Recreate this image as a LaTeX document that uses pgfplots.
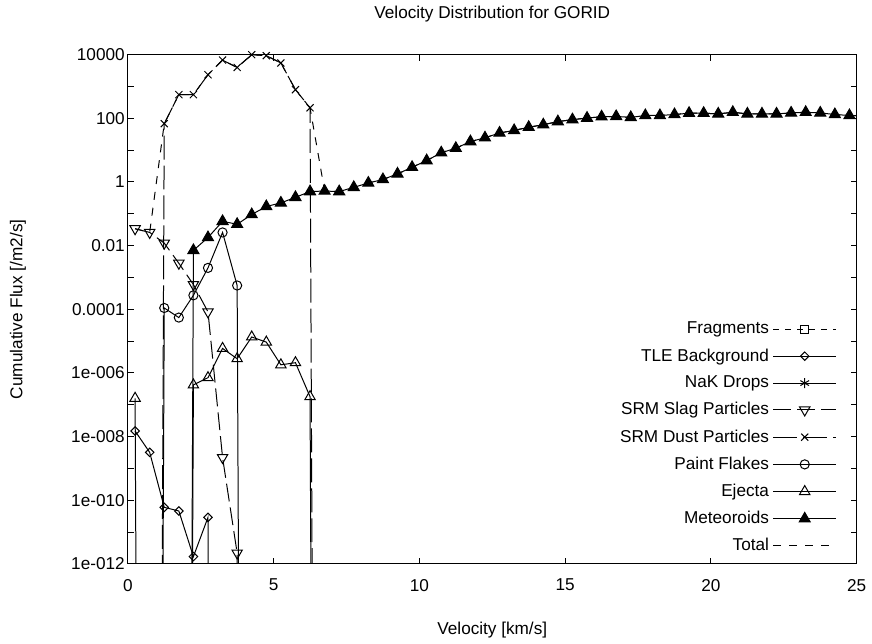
\documentclass[border=0pt]{standalone}
\usepackage{fontspec}
\setmainfont{Liberation Sans}
\usepackage{pgfplots}
\pgfplotsset{compat=1.18}
% 1e-100 stands for "practically zero": the segment drops off the bottom of the log axis
\begin{document}
\fontsize{8.6}{10}\selectfont
\begin{tikzpicture}
\pgfplotsset{legend image code/.code={\draw[mark repeat=2,mark phase=2] plot coordinates {(0cm,0cm)(0.55cm,0cm)(1.1cm,0cm)};}}
\begin{axis}[scale only axis,width=365pt,height=255pt,
 xmin=0,xmax=25,ymode=log,ymin=1e-12,ymax=1e4,
 axis line style={line width=0.5pt},
 tick align=inside,major tick length=3pt,tick style={line width=0.5pt,black},
 minor y tick style={draw=none},
 xtick={0,5,10,15,20,25},xticklabels={0,5,10,15,20,25},
 ytick={1e-12,1e-11,1e-10,1e-9,1e-8,1e-7,1e-6,1e-5,1e-4,1e-3,1e-2,1e-1,1,10,100,1000,10000},
 yticklabels={1e-012,,1e-010,,1e-008,,1e-006,,0.0001,,0.01,,1,,100,,10000},
 ticklabel style={font=\fontsize{8.6}{10}\selectfont},
 xticklabel style={yshift=-4.5pt},
 yticklabel style={xshift=1.5pt},
 label style={font=\fontsize{8.6}{10}\selectfont},
 title={Velocity Distribution for GORID},
 title style={at={(0.5,1.0569)},anchor=center,font=\fontsize{8.6}{10}\selectfont},
 xlabel={Velocity [km/s]},xlabel style={at={(0.5,-0.1300)},anchor=center},
 ylabel={Cumulative Flux [/m2/s]},ylabel style={at={(-0.1507,0.5)},anchor=center},
 legend plot pos=right,legend cell align=right,
 legend style={draw=none,fill=none,at={(0.981,0.004)},anchor=south east,row sep=2.1pt,
   font=\fontsize{8.6}{10}\selectfont},
 every axis plot/.append style={black,line width=0.5pt}]

\addlegendimage{dash pattern=on 3pt off 3pt,mark=square,mark size=2pt,mark options={solid}}
\addlegendentry{Fragments}

\addplot[mark=square,mark size=1.5pt,mark options={rotate=45}] coordinates {
(0.25,1.5e-8)(0.75,3.2e-9)(1.25,6.0e-11)(1.75,4.6e-11)(2.25,1.7e-12)(2.75,2.9e-11)(3.25,1e-100)};
\addlegendentry{TLE Background}

\addlegendimage{mark=asterisk,mark size=2.5pt}
\addlegendentry{NaK Drops}

\addplot[dash pattern=on 9pt off 3pt,mark=triangle,mark size=3pt,mark options={solid,rotate=180}] coordinates {
(0.25,3.4e-2)(0.75,2.6e-2)(1.25,1.2e-2)(1.75,2.8e-3)(2.25,6.0e-4)(2.75,8.3e-5)(3.25,2.2e-9)(3.75,2.2e-12)(4.25,1e-100)};
\addlegendentry{SRM Slag Particles}

\addplot[dash pattern=on 12pt off 3pt,mark=x,mark size=2.5pt,mark options={solid}] coordinates {
(0.75,1e-100)(1.25,68)(1.75,556)(2.25,556)(2.75,2340)(3.25,6760)(3.75,3980)(4.25,10000)(4.75,9330)(5.25,5500)(5.75,794)(6.25,214)(6.75,1e-100)};
\addlegendentry{SRM Dust Particles}

\addplot[mark=o,mark size=2.3pt] coordinates {
(0.75,1e-100)(1.25,1.1e-4)(1.75,5.5e-5)(2.25,2.75e-4)(2.75,2.0e-3)(3.25,2.6e-2)(3.75,5.6e-4)(4.25,1e-100)};
\addlegendentry{Paint Flakes}

\addplot[mark=triangle,mark size=3pt] coordinates {
(0.25,1.6e-7)(0.75,1e-100)(1.25,1e-100)(1.75,1e-100)(2.25,4.2e-7)(2.75,7.1e-7)(3.25,5.9e-6)(3.75,2.8e-6)(4.25,1.35e-5)(4.75,9.3e-6)(5.25,1.8e-6)(5.75,2.1e-6)(6.25,1.8e-7)(6.75,1e-100)};
\addlegendentry{Ejecta}

\addplot[mark=triangle*,mark size=3.2pt] coordinates {
(1.75,1e-100)(2.25,7.1e-3)(2.75,1.8e-2)(3.25,5.8e-2)(3.75,4.7e-2)(4.25,9.5e-2)(4.75,0.17)(5.25,0.22)(5.75,0.33)
(6.25,0.50)(6.75,0.52)(7.25,0.50)(7.75,0.68)(8.25,0.93)(8.75,1.2)(9.25,1.8)(9.75,2.9)(10.25,4.7)(10.75,8.3)
(11.25,11.5)(11.75,18.6)(12.25,24.5)(12.75,34.7)(13.25,41.7)(13.75,52.5)(14.25,63)(14.75,79)(15.25,91)(15.75,102)
(16.25,112)(16.75,115)(17.25,107)(17.75,123)(18.25,123)(18.75,132)(19.25,145)(19.75,145)(20.25,138)(20.75,155)
(21.25,138)(21.75,138)(22.25,138)(22.75,148)(23.25,155)(23.75,148)(24.25,132)(24.75,123)(25.25,120)};
\addlegendentry{Meteoroids}

\addplot[dash pattern=on 4pt off 4pt] coordinates {
(0.25,3.4e-2)(0.75,2.6e-2)(1.25,68)(1.75,556)(2.25,556)(2.75,2340)(3.25,6760)(3.75,3980)(4.25,10000)(4.75,9330)
(5.25,5500)(5.75,794)(6.25,215)(6.75,0.52)(7.25,0.50)(7.75,0.68)(8.25,0.93)(8.75,1.2)(9.25,1.8)(9.75,2.9)(10.25,4.7)
(10.75,8.3)(11.25,11.5)(11.75,18.6)(12.25,24.5)(12.75,34.7)(13.25,41.7)(13.75,52.5)(14.25,63)(14.75,79)(15.25,91)
(15.75,102)(16.25,112)(16.75,115)(17.25,107)(17.75,123)(18.25,123)(18.75,132)(19.25,145)(19.75,145)(20.25,138)
(20.75,155)(21.25,138)(21.75,138)(22.25,138)(22.75,148)(23.25,155)(23.75,148)(24.25,132)(24.75,123)(25.25,120)};
\addlegendentry{Total}
\end{axis}
\path[use as bounding box] ([shift={(-64pt,-39.5pt)}]current axis.south west) rectangle ([shift={(7pt,27pt)}]current axis.north east);
\end{tikzpicture}
\end{document}
